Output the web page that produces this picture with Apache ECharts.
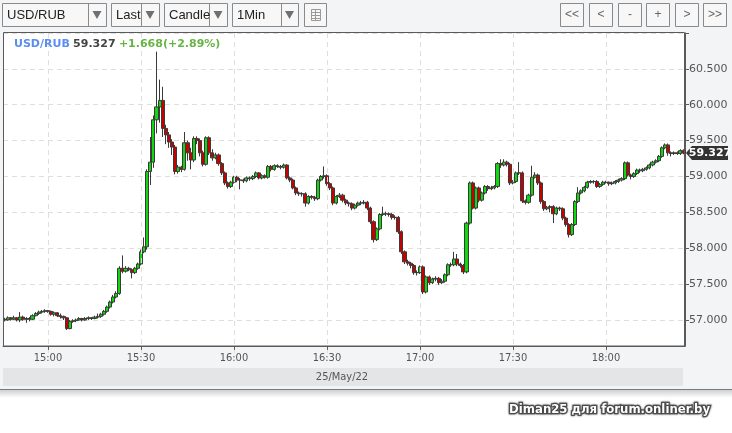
<!DOCTYPE html>
<html><head><meta charset="utf-8">
<script src="https://cdn.jsdelivr.net/npm/echarts@6/dist/echarts.min.js"></script>
<style>html,body{margin:0;padding:0;background:#f3f4f6;}#c{width:732px;height:433px;}</style>
</head><body><div id="c"></div>
<script>
// ---- data ----
const symbolName = 'USD/RUB';
const changeText = '+1.668(+2.89%)';
const dateLabel = '25/May/22';
const watermark = 'Diman25 для forum.onliner.by';
const firstMinute = 14 * 60 + 46;           // 14:46, one candle per minute
const yLabelValues = [57.0, 57.5, 58.0, 58.5, 59.0, 59.5, 60.0, 60.5];
// [open, close, low, high]
const candles = [
[57.01,57.00,56.98,57.03],[57.00,57.03,56.99,57.05],[57.03,57.01,56.99,57.04],[57.01,57.03,57.00,57.06],[57.03,57.00,56.98,57.04],
[57.00,57.04,56.97,57.11],[57.04,57.01,56.99,57.06],[57.01,57.02,56.96,57.04],[57.02,57.01,56.98,57.04],[57.01,57.06,57.00,57.08],
[57.06,57.09,57.05,57.11],[57.09,57.11,57.07,57.13],[57.11,57.12,57.09,57.14],[57.12,57.13,57.10,57.15],[57.13,57.12,57.10,57.14],
[57.12,57.08,57.06,57.13],[57.08,57.10,57.05,57.12],[57.10,57.06,57.04,57.11],[57.06,57.05,57.02,57.09],[57.05,57.03,57.00,57.06],
[57.03,56.88,56.86,57.04],[56.88,56.98,56.87,57.00],[56.98,56.99,56.96,57.01],[56.99,57.00,56.97,57.02],[57.00,57.02,56.99,57.04],
[57.02,57.00,56.98,57.03],[57.00,57.02,56.99,57.04],[57.02,57.03,57.00,57.05],[57.03,57.02,57.00,57.04],[57.02,57.04,57.01,57.06],
[57.04,57.05,57.02,57.09],[57.05,57.08,57.03,57.10],[57.08,57.12,57.06,57.14],[57.12,57.18,57.10,57.20],[57.18,57.25,57.16,57.27],
[57.25,57.32,57.23,57.35],[57.32,57.37,57.30,57.40],[57.37,57.72,57.35,57.75],[57.72,57.68,57.65,57.90],[57.68,57.72,57.66,57.75],
[57.72,57.70,57.68,57.74],[57.70,57.66,57.58,57.72],[57.66,57.72,57.64,57.74],[57.72,57.78,57.70,57.80],[57.78,57.95,57.76,57.98],
[57.95,58.02,57.93,58.15],[58.02,59.07,57.98,59.10],[59.07,59.20,58.88,59.55],[59.20,59.79,59.12,59.85],[59.79,59.97,59.60,60.74],
[59.97,60.06,59.75,60.35],[60.06,59.67,59.55,60.25],[59.67,59.58,59.45,59.72],[59.58,59.48,59.40,59.62],[59.48,59.41,59.30,59.52],
[59.41,59.07,59.03,59.44],[59.07,59.13,59.04,59.16],[59.13,59.10,59.06,59.15],[59.10,59.47,59.08,59.62],[59.47,59.33,59.22,59.50],
[59.33,59.23,59.10,59.40],[59.23,59.53,59.20,59.56],[59.53,59.50,59.45,59.56],[59.50,59.33,59.28,59.53],[59.33,59.17,59.14,59.36],
[59.17,59.54,59.15,59.56],[59.54,59.33,59.30,59.56],[59.33,59.26,59.22,59.38],[59.26,59.30,59.24,59.33],[59.30,59.18,59.15,59.32],
[59.18,59.05,59.02,59.20],[59.05,58.91,58.88,59.07],[58.91,58.86,58.83,58.93],[58.86,58.92,58.84,58.94],[58.92,58.99,58.90,59.01],
[58.99,58.95,58.92,59.01],[58.95,58.95,58.82,58.98],[58.95,58.94,58.91,58.97],[58.94,58.98,58.92,59.00],[58.98,58.97,58.94,59.00],
[58.97,59.00,58.95,59.02],[59.00,59.05,58.98,59.07],[59.05,58.98,58.96,59.06],[58.98,59.01,58.96,59.03],[59.01,58.99,58.97,59.03],
[58.99,59.14,58.97,59.16],[59.14,59.10,59.07,59.16],[59.10,59.15,59.08,59.17],[59.15,59.14,59.12,59.17],[59.14,59.13,59.10,59.16],
[59.13,59.16,59.11,59.18],[59.16,58.98,58.96,59.17],[58.98,58.95,58.92,59.00],[58.95,58.84,58.82,58.97],[58.84,58.77,58.74,58.86],
[58.77,58.76,58.73,58.79],[58.76,58.76,58.72,58.78],[58.76,58.63,58.58,58.78],[58.63,58.72,58.61,58.74],[58.72,58.71,58.68,58.74],
[58.71,58.69,58.66,58.73],[58.69,58.95,58.67,58.97],[58.95,59.00,58.93,59.02],[59.00,59.01,58.97,59.14],[59.01,58.90,58.87,59.03],
[58.90,58.84,58.81,58.92],[58.84,58.63,58.60,58.86],[58.63,58.72,58.61,58.74],[58.72,58.74,58.70,58.77],[58.74,58.67,58.64,58.76],
[58.67,58.63,58.60,58.69],[58.63,58.62,58.58,58.65],[58.62,58.56,58.53,58.64],[58.56,58.60,58.54,58.62],[58.60,58.63,58.58,58.65],
[58.63,58.63,58.60,58.66],[58.63,58.64,58.61,58.67],[58.64,58.56,58.53,58.66],[58.56,58.37,58.34,58.58],[58.37,58.12,58.08,58.39],
[58.12,58.27,58.10,58.29],[58.27,58.47,58.25,58.49],[58.47,58.48,58.45,58.58],[58.48,58.48,58.45,58.51],[58.48,58.47,58.44,58.50],
[58.47,58.43,58.40,58.49],[58.43,58.43,58.40,58.46],[58.43,58.23,58.20,58.45],[58.23,57.95,57.92,58.25],[57.95,57.81,57.78,57.97],
[57.81,57.79,57.76,57.84],[57.79,57.76,57.72,57.81],[57.76,57.66,57.63,57.78],[57.66,57.66,57.62,57.69],[57.66,57.74,57.64,57.76],
[57.74,57.39,57.36,57.76],[57.39,57.60,57.37,57.62],[57.60,57.52,57.49,57.62],[57.52,57.57,57.50,57.59],[57.57,57.58,57.54,57.61],
[57.58,57.52,57.49,57.60],[57.52,57.54,57.50,57.57],[57.54,57.63,57.52,57.65],[57.63,57.77,57.61,57.79],[57.77,57.77,57.74,57.80],
[57.77,57.85,57.75,57.95],[57.85,57.78,57.75,57.92],[57.78,57.76,57.73,57.80],[57.76,57.67,57.64,57.78],[57.67,58.35,57.65,58.37],
[58.35,58.91,58.33,58.93],[58.91,58.56,58.54,58.93],[58.56,58.84,58.54,58.86],[58.84,58.67,58.64,58.86],[58.67,58.77,58.65,58.79],
[58.77,58.86,58.75,58.88],[58.86,58.83,58.80,58.88],[58.83,58.84,58.81,58.87],[58.84,58.86,58.82,58.88],[58.86,59.18,58.84,59.20],
[59.18,59.16,59.12,59.24],[59.16,59.20,59.14,59.24],[59.20,59.17,59.14,59.22],[59.17,58.91,58.88,59.19],[58.91,58.93,58.89,58.95],
[58.93,59.05,58.91,59.07],[59.05,59.05,59.02,59.20],[59.05,58.66,58.63,59.07],[58.66,58.64,58.61,58.68],[58.64,58.74,58.62,58.76],
[58.74,58.99,58.72,59.15],[58.99,59.02,58.97,59.06],[59.02,58.91,58.88,59.04],[58.91,58.65,58.62,58.93],[58.65,58.55,58.52,58.67],
[58.55,58.57,58.53,58.59],[58.57,58.58,58.50,58.60],[58.58,58.48,58.35,58.60],[58.48,58.56,58.46,58.58],[58.56,58.55,58.52,58.58],
[58.55,58.42,58.39,58.57],[58.42,58.33,58.30,58.44],[58.33,58.19,58.15,58.35],[58.19,58.33,58.17,58.35],[58.33,58.65,58.31,58.67],
[58.65,58.77,58.63,58.85],[58.77,58.80,58.75,58.82],[58.80,58.85,58.78,58.87],[58.85,58.92,58.83,58.94],[58.92,58.93,58.90,58.95],
[58.93,58.93,58.90,58.95],[58.93,58.86,58.84,58.95],[58.86,58.89,58.84,58.91],[58.89,58.92,58.87,58.94],[58.92,58.92,58.90,58.94],
[58.92,58.90,58.87,58.93],[58.90,58.91,58.88,58.93],[58.91,58.93,58.89,58.95],[58.93,58.95,58.91,58.97],[58.95,58.97,58.93,58.99],
[58.97,59.19,58.95,59.21],[59.19,59.02,59.00,59.21],[59.02,59.00,58.96,59.04],[59.00,59.04,58.98,59.06],[59.04,59.09,59.02,59.11],
[59.09,59.08,59.05,59.11],[59.08,59.10,59.06,59.12],[59.10,59.12,59.08,59.14],[59.12,59.16,59.10,59.18],[59.16,59.20,59.14,59.22],
[59.20,59.22,59.18,59.24],[59.22,59.28,59.20,59.30],[59.28,59.40,59.26,59.42],[59.40,59.44,59.38,59.46],[59.44,59.33,59.29,59.46],
[59.33,59.32,59.28,59.35],[59.32,59.33,59.30,59.35],[59.33,59.32,59.30,59.35],[59.32,59.36,59.30,59.38],[59.36,59.327,59.31,59.38]
];
// ---- build ----
const times = candles.map((_, i) => {
  const m = firstMinute + i;
  return String(Math.floor(m / 60)).padStart(2, '0') + ':' + String(m % 60).padStart(2, '0');
});
const isMajor = (idx, val) => { const v = times[idx]; return v.endsWith(':00') || v.endsWith(':30'); };
const lastClose = candles[candles.length - 1][1];

const chart = echarts.init(document.getElementById('c'), null, { renderer: 'canvas' });
const FONT = 'Liberation Sans, Arial, sans-serif';
const CONDENSED = '"DejaVu Sans Condensed", "DejaVu Sans", sans-serif';

function dropBox(id, x, w, divX, label) {
  return [
    { type: 'rect', id: id + 'b', shape: { x: x + 0.5, y: 3.5, width: w, height: 23 },
      style: { fill: '#f7f7f8', stroke: '#8a8a8a', lineWidth: 1 }, z: 20 },
    { type: 'line', id: id + 'd', shape: { x1: divX + 0.5, y1: 4, x2: divX + 0.5, y2: 26 },
      style: { stroke: '#8a8a8a', lineWidth: 1 }, z: 21 },
    { type: 'text', id: id + 't', x: x + 5, y: 15, z: 21,
      style: { text: label, font: '13px ' + FONT, fill: '#222', verticalAlign: 'middle' } },
    { type: 'polygon', id: id + 'a', z: 21,
      shape: { points: [[divX + (x + w - divX) / 2 - 4.5, 11], [divX + (x + w - divX) / 2 + 4.5, 11], [divX + (x + w - divX) / 2, 19]] },
      style: { fill: '#707070' } }
  ];
}
function navBtn(id, x, label) {
  return [
    { type: 'rect', id: id + 'b', shape: { x: x + 0.5, y: 3.5, width: 23, height: 23 },
      style: { fill: '#f7f7f8', stroke: '#8a8a8a', lineWidth: 1 }, z: 20 },
    { type: 'text', id: id + 't', x: x + 12, y: 15, z: 21,
      style: { text: label, font: '12px ' + FONT, fill: '#666', align: 'center', verticalAlign: 'middle' } }
  ];
}

const graphics = [].concat(
  dropBox('sym', 2, 104, 88, symbolName),
  dropBox('last', 111, 48, 141, 'Last'),
  dropBox('typ', 164, 63, 209, 'Candle'),
  dropBox('per', 232, 66, 281, '1Min'),
  [
    { type: 'rect', id: 'icb', shape: { x: 304.5, y: 3.5, width: 22, height: 23 },
      style: { fill: '#f7f7f8', stroke: '#8a8a8a', lineWidth: 1 }, z: 20 },
    { type: 'rect', id: 'ici', shape: { x: 311.5, y: 9.5, width: 9, height: 11 },
      style: { fill: 'none', stroke: '#999', lineWidth: 1 }, z: 21 },
    { type: 'polyline', id: 'icl', shape: { points: [[312, 12.5], [320, 12.5]] }, style: { stroke: '#999' }, z: 21 },
    { type: 'polyline', id: 'icl2', shape: { points: [[312, 15.5], [320, 15.5]] }, style: { stroke: '#999' }, z: 21 },
    { type: 'polyline', id: 'icl3', shape: { points: [[312, 18.5], [320, 18.5]] }, style: { stroke: '#999' }, z: 21 },
    { type: 'polyline', id: 'icl4', shape: { points: [[315.5, 10], [315.5, 20]] }, style: { stroke: '#999' }, z: 21 }
  ],
  navBtn('n1', 560, '<<'), navBtn('n2', 589, '<'), navBtn('n3', 618, '-'),
  navBtn('n4', 646, '+'), navBtn('n5', 675, '>'), navBtn('n6', 703, '>>'),
  [
    { type: 'rect', id: 'cover', shape: { x: 0, y: 346.5, width: 732, height: 12 },
      style: { fill: '#f3f4f6' }, z: 8 },
    { type: 'rect', id: 'frame', shape: { x: 3.5, y: 32.5, width: 681, height: 313.5 },
      style: { fill: 'none', stroke: '#5a5a5a', lineWidth: 1 }, z: 9 },
    { type: 'text', id: 'hdr', x: 14, y: 44, z: 12,
      style: {
        text: '{a|' + symbolName + '} {b|' + lastClose.toFixed(3) + '} {c|' + changeText + '}',
        verticalAlign: 'middle',
        rich: {
          a: { font: 'bold 11px "DejaVu Sans", sans-serif', fill: '#5b8ef0' },
          b: { font: 'bold 11px "DejaVu Sans", sans-serif', fill: '#444' },
          c: { font: 'bold 11px "DejaVu Sans", sans-serif', fill: '#66b544' }
        }
      } },
    { type: 'rect', id: 'dbar', shape: { x: 3, y: 368, width: 680, height: 18 },
      style: { fill: '#e4e5e7' }, z: 3 },
    { type: 'text', id: 'dtxt', x: 342, y: 377, z: 4,
      style: { text: dateLabel, font: '11px ' + CONDENSED, fill: '#555', align: 'center', verticalAlign: 'middle' } },
    { type: 'rect', id: 'whiteBottom', shape: { x: 0, y: 390, width: 732, height: 43 }, style: { fill: '#ffffff' }, z: 2 },
    { type: 'line', id: 'sep', shape: { x1: 0, y1: 389.5, x2: 732, y2: 389.5 }, style: { stroke: '#7a7a7a', lineWidth: 1 }, z: 3 },
    { type: 'rect', id: 'shade', shape: { x: 0, y: 390, width: 732, height: 8 }, z: 3,
      style: { fill: new echarts.graphic.LinearGradient(0, 0, 0, 1, [
        { offset: 0, color: '#cfd0d2' }, { offset: 1, color: '#ffffff' }]) } },
    { type: 'text', id: 'wm', x: 710, y: 410, z: 4,
      style: { text: watermark, font: 'bold 13px ' + CONDENSED, fill: '#ffffff', align: 'right', verticalAlign: 'middle',
        stroke: '#555', lineWidth: 2.5, textShadowColor: 'rgba(0,0,0,0.6)', textShadowBlur: 2 } }
  ]
);

const splitColors = ['rgba(0,0,0,0)'].concat(Array(9).fill('#dedede'));

chart.setOption({
  backgroundColor: '#f3f4f6',
  animation: false,
  grid: { left: 3, top: 33, right: 47, bottom: 433 - 355.85, show: true, backgroundColor: '#ffffff', borderWidth: 0 },
  xAxis: {
    type: 'category', data: times, boundaryGap: true, offset: -10, z: 10,
    axisLine: { show: true, onZero: false, lineStyle: { color: '#5a5a5a' } },
    axisTick: { show: true, interval: isMajor, alignWithLabel: true, length: 4, lineStyle: { color: '#5a5a5a' } },
    axisLabel: { interval: isMajor, margin: 7, color: '#555', fontSize: 11, fontFamily: CONDENSED },
    splitLine: { show: true, interval: isMajor, alignWithLabel: true, lineStyle: { color: '#dedede', type: [5, 4] } }
  },
  yAxis: {
    type: 'value', position: 'right', min: 56.5, max: 61.0, interval: 0.5, scale: true,
    axisLine: { show: true, lineStyle: { color: '#5a5a5a' } },
    axisTick: { show: true, length: 4, lineStyle: { color: '#5a5a5a' } },
    axisLabel: { margin: 4, color: '#555', fontSize: 11, fontFamily: '"DejaVu Sans", sans-serif',
      formatter: v => yLabelValues.some(t => Math.abs(t - v) < 1e-6) ? v.toFixed(3) : '' },
    splitLine: { show: true, lineStyle: { color: splitColors, type: [5, 4] } }
  },
  series: [{
    type: 'candlestick', data: candles, barWidth: 3.6,
    itemStyle: { color: '#10d810', color0: '#c80000', borderColor: '#3a3a3a', borderColor0: '#3a3a3a', borderWidth: 1 }
  }],
  graphic: { elements: graphics }
});

const py = Math.round(chart.convertToPixel({ yAxisIndex: 0 }, lastClose));
chart.setOption({
  graphic: { elements: [
    { type: 'polygon', id: 'tag', z: 15,
      shape: { points: [[686, py], [692, py - 7], [728, py - 7], [728, py + 7], [692, py + 7]] },
      style: { fill: '#333333' } },
    { type: 'text', id: 'tagt', x: 710, y: py, z: 16,
      style: { text: lastClose.toFixed(3), font: 'bold 11px "DejaVu Sans", sans-serif', fill: '#ffffff', align: 'center', verticalAlign: 'middle' } }
  ] }
});
</script></body></html>
